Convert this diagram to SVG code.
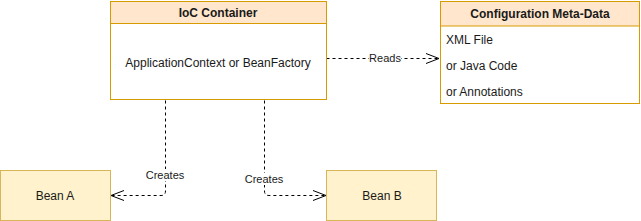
<svg xmlns="http://www.w3.org/2000/svg" width="641" height="221" viewBox="0 0 641 221">
<style>
text{font-family:"Liberation Sans",Arial,sans-serif;fill:#1a1a1a}
.hdr{fill:#ffe6cc;stroke:#d79b00}
.body{fill:#ffffff;stroke:#d79b00}
.bean{fill:#fff2cc;stroke:#d6b656}
.t12{font-size:12px}
.b{font-weight:bold}
.edge{fill:none;stroke:#000;stroke-dasharray:3 3}
.lbl{font-size:11px;text-anchor:middle}
.lblbg{fill:#fff}
</style>
<defs>
<marker id="open" markerWidth="16" markerHeight="12" refX="14" refY="6" orient="auto" markerUnits="userSpaceOnUse">
<path d="M1,1 L14,6 L1,11" fill="none" stroke="#000"/>
</marker>
</defs>
<g id="connectors">
<path class="edge" d="M326.5,58.5 H439" marker-end="url(#open)"/>
<rect class="lblbg" x="369" y="52" width="32" height="12"/>
<text class="lbl" x="385" y="62">Reads</text>
<path class="edge" d="M165.5,100.5 V191 Q165.5,195.5 161,195.5 H111" marker-end="url(#open)"/>
<rect class="lblbg" x="145" y="169" width="40" height="12"/>
<text class="lbl" x="165" y="179">Creates</text>
<path class="edge" d="M264.5,100.5 V191 Q264.5,195.5 269,195.5 H326" marker-end="url(#open)"/>
<rect class="lblbg" x="244" y="173" width="40" height="12"/>
<text class="lbl" x="264" y="183">Creates</text>
</g>
<g id="ioc">
<rect class="body" x="110.5" y="1.5" width="216" height="98"/>
<rect class="hdr" x="110.5" y="1.5" width="216" height="22"/>
<text class="t12 b" x="218" y="17" text-anchor="middle">IoC Container</text>
<text class="t12" x="218" y="67" text-anchor="middle">ApplicationContext or BeanFactory</text>
</g>
<g id="config">
<rect class="body" x="440.5" y="1.5" width="199" height="102"/>
<rect class="hdr" x="440.5" y="1.5" width="199" height="24.5"/>
<text class="t12 b" x="540" y="18" text-anchor="middle">Configuration Meta-Data</text>
<text class="t12" x="446" y="44">XML File</text>
<text class="t12" x="446" y="70">or Java Code</text>
<text class="t12" x="446" y="96">or Annotations</text>
</g>
<g id="beanA">
<rect class="bean" x="0.5" y="170.5" width="110" height="50"/>
<text class="t12" x="55" y="200" text-anchor="middle">Bean A</text>
</g>
<g id="beanB">
<rect class="bean" x="326.5" y="170.5" width="110" height="50"/>
<text class="t12" x="382" y="200" text-anchor="middle">Bean B</text>
</g>
</svg>
